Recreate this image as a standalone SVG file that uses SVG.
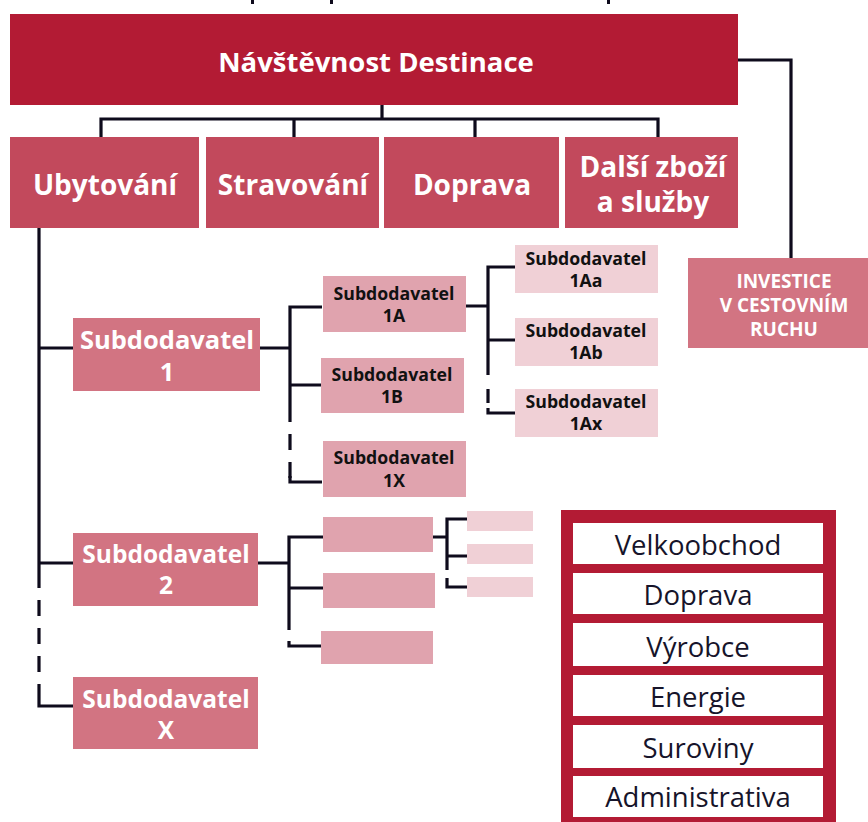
<svg xmlns="http://www.w3.org/2000/svg" width="868" height="822" viewBox="0 0 868 822">
<style>
.ln{fill:none;stroke:#0E0B1C;stroke-width:3.2}
.dash{stroke-dasharray:16 12}
.t{font-family:"Open Sans","Noto Sans","DejaVu Sans",sans-serif;text-anchor:middle}
.w{fill:#FFFFFF;font-weight:700}
.k{fill:#111111;font-weight:700}
.c0{fill:#B31B34}
.c1{fill:#C2495C}
.c2{fill:#D27482}
.c3{fill:#E0A3AE}
.c4{fill:#F0D0D6}
.lg{fill:#16142A;font-size:27.5px;font-weight:400}
</style>
<rect width="868" height="822" fill="#FFFFFF"/>
<g id="top-marks" fill="#0E0B1C">
<rect x="251" y="0" width="3" height="4"/>
<rect x="330" y="0" width="3" height="4"/>
<rect x="607" y="0" width="3" height="4"/>
</g>
<g id="connectors">
<path class="ln" d="M382,105 V119 M101,137 V119 H658 V137 M294,119 V137 M475,119 V137"/>
<path class="ln" d="M738,60 H791 V258"/>
<path class="ln" d="M39,228 V588 M39,348 H73 M39,563 H73"/>
<path class="ln dash" d="M39,600 V700"/>
<path class="ln" d="M39,700 V706 H73"/>
<path class="ln" d="M260,348 H290 M322,307 H290 V422 M290,385 H321"/>
<path class="ln dash" d="M290,434 V478"/>
<path class="ln" d="M290,476 V482 H322"/>
<path class="ln" d="M466,306 H488 M515,267 H488 V375 M488,340 H515"/>
<path class="ln" d="M488,389 V403"/>
<path class="ln" d="M488,408 V413 H515"/>
<path class="ln" d="M258,563 H289 M323,537 H289 V630 M289,588 H323"/>
<path class="ln" d="M289,641 V646 H321"/>
<path class="ln" d="M433,537 H447 M467,519 H447 V570 M447,556 H467"/>
<path class="ln" d="M447,578 V587 H467"/>
</g>
<g id="n-destinace">
<rect class="c0" x="10" y="14" width="728" height="91"/>
<text class="t w" x="376" y="72" font-size="27.5">Návštěvnost Destinace</text>
</g>
<g id="n-ubytovani">
<rect class="c1" x="10" y="137" width="189" height="91"/>
<text class="t w" x="105" y="195" font-size="28">Ubytování</text>
</g>
<g id="n-stravovani">
<rect class="c1" x="206" y="137" width="173" height="91"/>
<text class="t w" x="293" y="195" font-size="28">Stravování</text>
</g>
<g id="n-doprava">
<rect class="c1" x="384" y="137" width="175" height="91"/>
<text class="t w" x="472" y="195" font-size="28">Doprava</text>
</g>
<g id="n-dalsi">
<rect class="c1" x="565" y="137" width="173" height="91"/>
<text class="t w" x="653" y="177" font-size="28">Další zboží<tspan x="653" dy="35">a služby</tspan></text>
</g>
<g id="n-investice">
<rect class="c2" x="688" y="258" width="180" height="90"/>
<text class="t w" x="784" y="288" font-size="19">INVESTICE<tspan x="784" dy="24">V CESTOVNÍM</tspan><tspan x="784" dy="24">RUCHU</tspan></text>
</g>
<g id="n-sub1">
<rect class="c2" x="73" y="318" width="187" height="73"/>
<text class="t w" x="167" y="349" font-size="25.5">Subdodavatel<tspan x="167" dy="32">1</tspan></text>
</g>
<g id="n-sub2">
<rect class="c2" x="73" y="533" width="185" height="73"/>
<text class="t w" x="166" y="563" font-size="24.5">Subdodavatel<tspan x="166" dy="31">2</tspan></text>
</g>
<g id="n-subx">
<rect class="c2" x="73" y="677" width="185" height="72"/>
<text class="t w" x="166" y="708" font-size="24.5">Subdodavatel<tspan x="166" dy="31">X</tspan></text>
</g>
<g id="n-sub1a">
<rect class="c3" x="323" y="276" width="143" height="56"/>
<text class="t k" x="394" y="300" font-size="17.7">Subdodavatel<tspan x="394" dy="22">1A</tspan></text>
</g>
<g id="n-sub1b">
<rect class="c3" x="321" y="358" width="143" height="55"/>
<text class="t k" x="392" y="381" font-size="17.7">Subdodavatel<tspan x="392" dy="22">1B</tspan></text>
</g>
<g id="n-sub1x">
<rect class="c3" x="323" y="441" width="143" height="56"/>
<text class="t k" x="394" y="464" font-size="17.7">Subdodavatel<tspan x="394" dy="23">1X</tspan></text>
</g>
<g id="n-sub1aa">
<rect class="c4" x="515" y="245" width="143" height="48"/>
<text class="t k" x="586" y="265" font-size="17.7">Subdodavatel<tspan x="586" dy="22">1Aa</tspan></text>
</g>
<g id="n-sub1ab">
<rect class="c4" x="515" y="318" width="143" height="48"/>
<text class="t k" x="586" y="337" font-size="17.7">Subdodavatel<tspan x="586" dy="22">1Ab</tspan></text>
</g>
<g id="n-sub1ax">
<rect class="c4" x="515" y="389" width="143" height="48"/>
<text class="t k" x="586" y="408" font-size="17.7">Subdodavatel<tspan x="586" dy="22">1Ax</tspan></text>
</g>
<g id="n-sub2a"><rect class="c3" x="323" y="517" width="110" height="35"/></g>
<g id="n-sub2b"><rect class="c3" x="323" y="573" width="112" height="35"/></g>
<g id="n-sub2c"><rect class="c3" x="321" y="631" width="112" height="33"/></g>
<g id="n-sub2aa"><rect class="c4" x="467" y="511" width="66" height="20"/></g>
<g id="n-sub2ab"><rect class="c4" x="467" y="544" width="66" height="20"/></g>
<g id="n-sub2ac"><rect class="c4" x="467" y="577" width="66" height="20"/></g>
<g id="legend">
<rect class="c0" x="561" y="510" width="275" height="312"/>
<rect fill="#FFFFFF" x="573" y="523" width="250" height="41"/>
<rect fill="#FFFFFF" x="573" y="573" width="250" height="41"/>
<rect fill="#FFFFFF" x="573" y="623" width="250" height="43"/>
<rect fill="#FFFFFF" x="573" y="675" width="250" height="41"/>
<rect fill="#FFFFFF" x="573" y="725" width="250" height="43"/>
<rect fill="#FFFFFF" x="573" y="776" width="250" height="41"/>
<text class="t lg" x="698" y="555">Velkoobchod</text>
<text class="t lg" x="698" y="605">Doprava</text>
<text class="t lg" x="698" y="657">Výrobce</text>
<text class="t lg" x="698" y="707">Energie</text>
<text class="t lg" x="698" y="758">Suroviny</text>
<text class="t lg" x="698" y="807">Administrativa</text>
</g>
</svg>
